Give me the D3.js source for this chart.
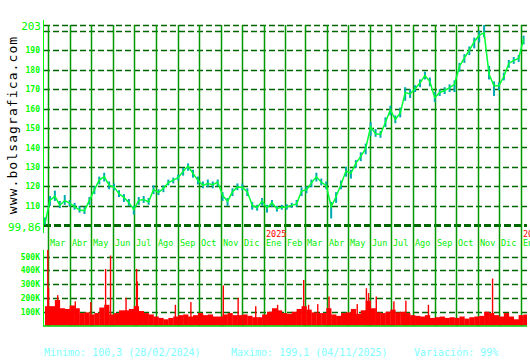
<!DOCTYPE html>
<html>
<head>
<meta charset="utf-8">
<script src="https://cdn.jsdelivr.net/npm/d3@7"></script>
<style>
  body { margin: 0; background: #fff; }
  text { font-family: "DejaVu Sans Mono", monospace; }
</style>
</head>
<body>
<div id="chart"></div>
<script>
// weekly closes, lows and highs
var closes = [101, 112.8, 115, 110.3, 112.7, 111.4, 109.6, 107.8, 107.5, 112.8,
  118.2, 123.2, 125, 120.6, 119.6, 116.2, 114.3, 111.6, 108.1, 112.8,
  113.2, 112, 118.3, 116.9, 118.9, 121.9, 123.2, 124.5, 127.8, 130.4,
  126.6, 123.1, 120.5, 121.5, 120.8, 122.2, 115.3, 112.3, 117.2, 119.6,
  119.5, 117.2, 110.2, 109, 112.5, 108.8, 111.6, 108.5, 109.3, 109.4,
  110.2, 111, 117.6, 118.2, 121.7, 124.9, 122.1, 120.5, 109.5, 114.8,
  120.9, 127.9, 126.7, 131.8, 135.4, 139.5, 150.6, 147, 146.7, 153,
  159.4, 154.3, 157.7, 168.2, 167.5, 170.2, 173.2, 177, 173.9, 165.6,
  168.3, 169.3, 170.8, 172.5, 181.7, 186.1, 189.9, 194.4, 197.7, 199.1,
  177.7, 171.7, 171.8, 176.5, 183.2, 184.8, 185.8, 196];

var lows = [100.3, 110, 112.5, 108.8, 110.5, 109.5, 108, 106.5, 105.8, 110.5,
  116, 121, 122.5, 118.5, 118, 114.5, 112, 110, 105.5, 110.5,
  111.5, 110.5, 116, 115.5, 117, 120.5, 121.5, 123, 125.5, 128,
  124.5, 121, 119, 119.5, 119, 120, 112.5, 110, 115, 118,
  118, 115, 108, 107.5, 110, 106.5, 109.5, 107, 108, 108,
  109, 109.5, 115, 116.5, 119.5, 122.5, 120.5, 118.5, 103.5, 111.5,
  118.5, 125, 124, 129.5, 133, 136.5, 146, 145.5, 145, 150.5,
  156.5, 152.5, 155.5, 164, 165.5, 168.5, 171, 175, 171.5, 163.5,
  166.5, 167.5, 168.5, 168.5, 179, 183.5, 187.5, 191, 194, 196.5,
  175, 166.5, 169.5, 174.5, 181, 183, 184, 193];

var highs = [104, 115, 117.8, 112.5, 115.5, 113, 111.5, 110, 109.5, 114.5,
  120, 125, 127, 122.5, 121.5, 118, 116, 113.5, 110, 114.5,
  115, 114, 120.5, 118.5, 120.5, 123.5, 124.5, 126, 129.5, 131.8,
  128.5, 125, 122.5, 123.5, 122.5, 123.5, 117, 114, 119, 121.5,
  121.5, 119, 112, 110.5, 114, 110.5, 113, 110, 110.5, 110.8,
  111.5, 113, 119.5, 120, 123.5, 127, 124, 122.5, 112, 117,
  123, 130, 128.5, 133.5, 137.5, 142, 153, 149.5, 148.5, 155.5,
  161.5, 156.5, 160.5, 171, 170, 172, 175, 179, 176, 168.5,
  170, 171, 172.5, 174.5, 183.5, 188, 192, 196.5, 200, 203,
  182, 174, 173.5, 178.5, 185, 186.5, 187.5, 197.5];

// typical daily volume per week, thousands
var volumes = [140, 140, 185, 125, 120, 145, 125, 90, 95, 80,
  90, 130, 150, 80, 90, 110, 110, 120, 140, 105,
  90, 80, 65, 55, 45, 55, 65, 75, 80, 65,
  75, 90, 75, 80, 65, 65, 80, 90, 75, 75,
  80, 70, 60, 60, 80, 100, 125, 110, 90, 85,
  100, 120, 140, 115, 95, 90, 90, 125, 80, 70,
  90, 95, 120, 85, 110, 180, 125, 95, 90, 100,
  115, 95, 100, 90, 75, 70, 65, 75, 55, 60,
  65, 55, 60, 55, 65, 50, 60, 65, 70, 100,
  90, 75, 65, 90, 65, 45, 75, 80];

// single heavy days, thousands
var spikeDates = ["2024-02-29", "2024-03-01", "2024-03-14", "2024-04-08", "2024-04-30",
  "2024-05-21", "2024-05-28", "2024-06-19", "2024-07-04", "2024-07-05",
  "2024-08-28", "2024-09-19", "2024-11-04", "2024-11-25", "2024-12-20",
  "2025-01-20", "2025-02-26", "2025-03-05", "2025-03-18", "2025-04-03",
  "2025-05-13", "2025-05-26", "2025-05-29", "2025-06-09", "2025-07-04",
  "2025-07-21", "2025-08-22", "2025-11-21"];
var spikeVols = [548, 270, 220, 175, 170, 410, 507, 200, 410, 320,
  150, 170, 290, 200, 140, 150, 330, 150, 155, 210,
  155, 270, 235, 210, 175, 180, 150, 340];

var priceGrid = [200, 190, 180, 170, 160, 150, 140, 130, 120, 110];
var priceTicks = [190, 180, 170, 160, 150, 140, 130, 120, 110];
var volTicks = [100, 200, 300, 400, 500];
var monthNames = ["Ene", "Feb", "Mar", "Abr", "May", "Jun", "Jul", "Ago", "Sep", "Oct", "Nov", "Dic"];

var svgWidth = 530;
var svgHeight = 360;
var left = 45, right = 527;

var svg = d3.select("#chart")
  .append("svg")
  .attr("width", svgWidth)
  .attr("height", svgHeight);

var parseDay = d3.timeParse("%Y-%m-%d");
var weeks = d3.timeMonday.range(new Date(2024, 1, 26), new Date(2026, 0, 6));
var months = d3.timeMonth.range(new Date(2024, 2, 1), new Date(2026, 0, 2));

var x = d3.scaleTime()
  .domain([new Date(2024, 1, 26), new Date(2026, 0, 7)])
  .range([left, 525]);

var y = d3.scaleLinear().domain([99.86, 203]).range([225.5, 25]);
var yVol = d3.scaleLinear().domain([0, 550]).range([325.5, 249.6]);

svg.append("clipPath").attr("id", "plot")
  .append("rect").attr("x", left).attr("y", 20).attr("width", right - left).attr("height", 310);

// watermark
svg.append("text")
  .attr("transform", "translate(17,125) rotate(-90)")
  .attr("text-anchor", "middle")
  .attr("font-family", "'Liberation Mono', monospace")
  .attr("font-size", "13px")
  .attr("letter-spacing", "1.1px")
  .attr("fill", "#000")
  .text("www.bolsagrafica.com");

// price gridlines (200 has no label)
var gridStyle = function(sel) {
  sel.attr("stroke", "#006600")
    .attr("stroke-width", 1.3)
    .attr("stroke-dasharray", "6,3");
};
svg.append("g").selectAll("line")
  .data(priceGrid.concat([203]))
  .enter()
  .append("line")
  .attr("x1", 44).attr("x2", right)
  .attr("y1", d => Math.round(y(d)) + 0.5)
  .attr("y2", d => Math.round(y(d)) + 0.5)
  .call(gridStyle);

var priceAxis = svg.append("g")
  .attr("transform", "translate(44,0)")
  .call(d3.axisLeft(y).tickValues(priceTicks).tickSize(0).tickPadding(4));
priceAxis.select(".domain").remove();
priceAxis.selectAll("text")
  .attr("fill", "#00ff00")
  .attr("font-size", "8px")
  .attr("font-weight", "bold");

svg.append("line")
  .attr("x1", 44).attr("x2", right)
  .attr("y1", y(99.86)).attr("y2", y(99.86))
  .attr("stroke", "#006600").attr("stroke-width", 3).attr("stroke-dasharray", "7,3");
svg.append("text")
  .attr("x", 41).attr("y", y(203) + 4.5)
  .attr("text-anchor", "end").attr("font-size", "11px").attr("fill", "#00ff00")
  .text("203");
svg.append("text")
  .attr("x", 41).attr("y", y(99.86) + 5)
  .attr("text-anchor", "end").attr("font-size", "11px").attr("fill", "#00ff00")
  .text("99,86");

// volume gridlines
svg.append("g").selectAll("line")
  .data(volTicks)
  .enter()
  .append("line")
  .attr("x1", 44).attr("x2", right)
  .attr("y1", d => Math.round(yVol(d)) + 0.5)
  .attr("y2", d => Math.round(yVol(d)) + 0.5)
  .call(gridStyle);

var volAxis = svg.append("g")
  .attr("transform", "translate(44,0)")
  .call(d3.axisLeft(yVol).tickValues(volTicks).tickSize(0).tickPadding(4)
    .tickFormat(d => d + "K"));
volAxis.select(".domain").remove();
volAxis.selectAll("text")
  .attr("fill", "#00ff00")
  .attr("font-size", "8px")
  .attr("font-weight", "bold");

// month lines and labels
svg.append("g").selectAll("line")
  .data(months)
  .enter()
  .append("line")
  .attr("x1", d => Math.round(x(d)) + 0.5)
  .attr("x2", d => Math.round(x(d)) + 0.5)
  .attr("y1", 25)
  .attr("y2", 326)
  .attr("stroke", "#009900")
  .attr("stroke-width", 1.5);

svg.append("g").selectAll("text")
  .data(months)
  .enter()
  .append("text")
  .attr("x", d => Math.round(x(d)) + 2)
  .attr("y", 246)
  .attr("font-size", "8.5px")
  .attr("fill", "#00ee00")
  .text(d => monthNames[d.getMonth()]);

svg.append("g").selectAll("text")
  .data(months.filter(d => d.getMonth() === 0))
  .enter()
  .append("text")
  .attr("x", d => Math.round(x(d)) + 2)
  .attr("y", 237)
  .attr("font-size", "8.5px")
  .attr("fill", "#ff0000")
  .text(d => d.getFullYear());

// volume bars
var volGroup = svg.append("g").attr("clip-path", "url(#plot)");
volGroup.selectAll("rect.week")
  .data(weeks)
  .enter()
  .append("rect")
  .attr("class", "week")
  .attr("x", d => x(d))
  .attr("width", d => x(d3.timeDay.offset(d, 7)) - x(d) + 0.3)
  .attr("y", (d, i) => yVol(volumes[i]))
  .attr("height", (d, i) => yVol(0) - yVol(volumes[i]))
  .attr("fill", "#ff0000");

volGroup.selectAll("rect.spike")
  .data(spikeDates)
  .enter()
  .append("rect")
  .attr("class", "spike")
  .attr("x", d => x(parseDay(d)))
  .attr("width", 1.4)
  .attr("y", (d, i) => yVol(spikeVols[i]))
  .attr("height", (d, i) => yVol(0) - yVol(spikeVols[i]))
  .attr("fill", "#ff0000");

// price: high-low bars then close
var priceGroup = svg.append("g");
priceGroup.selectAll("line.hl")
  .data(weeks)
  .enter()
  .append("line")
  .attr("class", "hl")
  .attr("x1", d => x(d))
  .attr("x2", d => x(d))
  .attr("y1", (d, i) => y(lows[i]))
  .attr("y2", (d, i) => y(highs[i]))
  .attr("stroke", "#00a8b0")
  .attr("stroke-width", 2);

var line = d3.line()
  .x((d, i) => x(d))
  .y((d, i) => y(closes[i]));

priceGroup.append("path")
  .datum(weeks)
  .attr("d", line)
  .attr("fill", "none")
  .attr("stroke", "#00ff33")
  .attr("stroke-width", 1.5);

// axis lines
svg.append("line")
  .attr("x1", 43.5).attr("x2", 43.5).attr("y1", 20).attr("y2", 233)
  .attr("stroke", "#00ff00").attr("stroke-width", 1);
svg.append("line")
  .attr("x1", 43.5).attr("x2", 43.5).attr("y1", 250).attr("y2", 326)
  .attr("stroke", "#00ff00").attr("stroke-width", 1);
svg.append("line")
  .attr("x1", 43).attr("x2", right).attr("y1", 326).attr("y2", 326)
  .attr("stroke", "#00cc00").attr("stroke-width", 1.5);

// footer
var footer = [
  { x: 44, t: "Minimo: 100,3 (28/02/2024)" },
  { x: 231, t: "Maximo: 199,1 (04/11/2025)" },
  { x: 414, t: "Variación: 99%" }
];
svg.append("g").selectAll("text")
  .data(footer)
  .enter()
  .append("text")
  .attr("x", d => d.x)
  .attr("y", 356)
  .attr("font-size", "10px")
  .attr("fill", "#80ffff")
  .text(d => d.t);
</script>
</body>
</html>
